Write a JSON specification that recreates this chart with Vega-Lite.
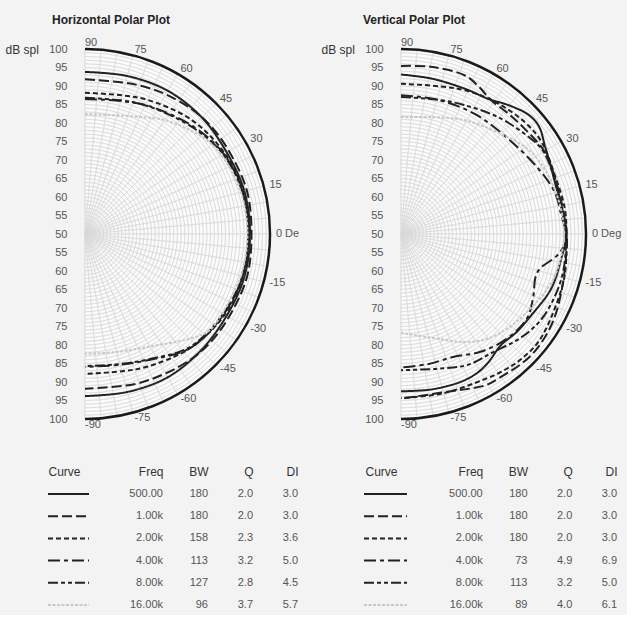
{
  "$schema": "https://vega.github.io/schema/vega-lite/v6.json",
  "background": "#f3f3f3",
  "padding": {"left": 5, "right": 5, "top": 14, "bottom": 5},
  "bounds": "flush",
  "columns": 2,
  "spacing": {"row": 75, "column": 64},
  "resolve": {"scale": {"x": "independent", "y": "independent"}},
  "datasets": {
    "grid_r": [{"r":1},{"r":2},{"r":3},{"r":4},{"r":5},{"r":6},{"r":7},{"r":8},{"r":9},{"r":10},{"r":11},{"r":12},{"r":13},{"r":14},{"r":15},{"r":16},{"r":17},{"r":18},{"r":19},{"r":20},{"r":21},{"r":22},{"r":23},{"r":24},{"r":25},{"r":26},{"r":27},{"r":28},{"r":29},{"r":30},{"r":31},{"r":32},{"r":33},{"r":34},{"r":35},{"r":36},{"r":37},{"r":38},{"r":39},{"r":40},{"r":41},{"r":42},{"r":43},{"r":44},{"r":45},{"r":46},{"r":47},{"r":48},{"r":49}],
    "spokes": [{"angle":-90},{"angle":-85},{"angle":-80},{"angle":-75},{"angle":-70},{"angle":-65},{"angle":-60},{"angle":-55},{"angle":-50},{"angle":-45},{"angle":-40},{"angle":-35},{"angle":-30},{"angle":-25},{"angle":-20},{"angle":-15},{"angle":-10},{"angle":-5},{"angle":0},{"angle":5},{"angle":10},{"angle":15},{"angle":20},{"angle":25},{"angle":30},{"angle":35},{"angle":40},{"angle":45},{"angle":50},{"angle":55},{"angle":60},{"angle":65},{"angle":70},{"angle":75},{"angle":80},{"angle":85},{"angle":90}],
    "hlabels": [{"angle":90,"label":"90"},{"angle":75,"label":"75"},{"angle":60,"label":"60"},{"angle":45,"label":"45"},{"angle":30,"label":"30"},{"angle":15,"label":"15"},{"angle":0,"label":"0 De"},{"angle":-15,"label":"-15"},{"angle":-30,"label":"-30"},{"angle":-45,"label":"-45"},{"angle":-60,"label":"-60"},{"angle":-75,"label":"-75"},{"angle":-90,"label":"-90"}],
    "vlabels": [{"angle":90,"label":"90"},{"angle":75,"label":"75"},{"angle":60,"label":"60"},{"angle":45,"label":"45"},{"angle":30,"label":"30"},{"angle":15,"label":"15"},{"angle":0,"label":"0 Deg"},{"angle":-15,"label":"-15"},{"angle":-30,"label":"-30"},{"angle":-45,"label":"-45"},{"angle":-60,"label":"-60"},{"angle":-75,"label":"-75"},{"angle":-90,"label":"-90"}],
    "hcurves": [
      {"curve":"500.00","angle":90,"level":93.8},{"curve":"500.00","angle":75,"level":94.2},{"curve":"500.00","angle":60,"level":94.7},{"curve":"500.00","angle":45,"level":94.6},{"curve":"500.00","angle":30,"level":94.2},{"curve":"500.00","angle":15,"level":94.6},{"curve":"500.00","angle":0,"level":94.6},{"curve":"500.00","angle":-15,"level":94.6},{"curve":"500.00","angle":-30,"level":94.2},{"curve":"500.00","angle":-45,"level":94.4},{"curve":"500.00","angle":-60,"level":94.7},{"curve":"500.00","angle":-75,"level":94.2},{"curve":"500.00","angle":-90,"level":93.8},
      {"curve":"1.00k","angle":90,"level":91.8},{"curve":"1.00k","angle":75,"level":92.3},{"curve":"1.00k","angle":67,"level":93.0},{"curve":"1.00k","angle":60,"level":93.6},{"curve":"1.00k","angle":49,"level":94.4},{"curve":"1.00k","angle":40,"level":94.8},{"curve":"1.00k","angle":30,"level":94.9},{"curve":"1.00k","angle":15,"level":95.3},{"curve":"1.00k","angle":0,"level":95.0},{"curve":"1.00k","angle":-15,"level":95.3},{"curve":"1.00k","angle":-30,"level":94.9},{"curve":"1.00k","angle":-40,"level":94.8},{"curve":"1.00k","angle":-49,"level":94.4},{"curve":"1.00k","angle":-60,"level":93.5},{"curve":"1.00k","angle":-72,"level":92.7},{"curve":"1.00k","angle":-90,"level":91.8},
      {"curve":"2.00k","angle":90,"level":88.2},{"curve":"2.00k","angle":75,"level":88.8},{"curve":"2.00k","angle":65,"level":90.0},{"curve":"2.00k","angle":47,"level":92.2},{"curve":"2.00k","angle":30,"level":93.6},{"curve":"2.00k","angle":15,"level":94.2},{"curve":"2.00k","angle":0,"level":94.2},{"curve":"2.00k","angle":-15,"level":94.2},{"curve":"2.00k","angle":-30,"level":93.6},{"curve":"2.00k","angle":-47,"level":92.0},{"curve":"2.00k","angle":-65,"level":89.6},{"curve":"2.00k","angle":-75,"level":88.4},{"curve":"2.00k","angle":-90,"level":87.8},
      {"curve":"4.00k","angle":90,"level":86.5},{"curve":"4.00k","angle":75,"level":87.2},{"curve":"4.00k","angle":64,"level":88.6},{"curve":"4.00k","angle":45,"level":91.2},{"curve":"4.00k","angle":30,"level":93.3},{"curve":"4.00k","angle":15,"level":94.1},{"curve":"4.00k","angle":0,"level":94.2},{"curve":"4.00k","angle":-15,"level":94.1},{"curve":"4.00k","angle":-30,"level":93.3},{"curve":"4.00k","angle":-47,"level":92.0},{"curve":"4.00k","angle":-63,"level":88.2},{"curve":"4.00k","angle":-75,"level":86.6},{"curve":"4.00k","angle":-90,"level":85.9},
      {"curve":"8.00k","angle":90,"level":86.8},{"curve":"8.00k","angle":75,"level":87.4},{"curve":"8.00k","angle":64,"level":88.5},{"curve":"8.00k","angle":45,"level":90.9},{"curve":"8.00k","angle":30,"level":93.1},{"curve":"8.00k","angle":15,"level":94.0},{"curve":"8.00k","angle":0,"level":94.1},{"curve":"8.00k","angle":-15,"level":94.0},{"curve":"8.00k","angle":-30,"level":93.1},{"curve":"8.00k","angle":-47,"level":91.7},{"curve":"8.00k","angle":-63,"level":88.0},{"curve":"8.00k","angle":-75,"level":86.4},{"curve":"8.00k","angle":-90,"level":85.7},
      {"curve":"16.00k","angle":90,"level":82.4},{"curve":"16.00k","angle":68,"level":84.3},{"curve":"16.00k","angle":55,"level":87.6},{"curve":"16.00k","angle":45,"level":89.8},{"curve":"16.00k","angle":38,"level":91.5},{"curve":"16.00k","angle":30,"level":92.6},{"curve":"16.00k","angle":15,"level":93.6},{"curve":"16.00k","angle":0,"level":93.9},{"curve":"16.00k","angle":-15,"level":93.6},{"curve":"16.00k","angle":-30,"level":92.8},{"curve":"16.00k","angle":-38,"level":92.5},{"curve":"16.00k","angle":-45,"level":90.0},{"curve":"16.00k","angle":-60,"level":85.1},{"curve":"16.00k","angle":-75,"level":83.0},{"curve":"16.00k","angle":-90,"level":82.4}
    ],
    "vcurves": [
      {"curve":"500.00","angle":90,"level":93.1},{"curve":"500.00","angle":79,"level":92.8},{"curve":"500.00","angle":66,"level":92.9},{"curve":"500.00","angle":57,"level":93.5},{"curve":"500.00","angle":50,"level":95.4},{"curve":"500.00","angle":43,"level":97.2},{"curve":"500.00","angle":38,"level":97.3},{"curve":"500.00","angle":31,"level":95.5},{"curve":"500.00","angle":25,"level":94.5},{"curve":"500.00","angle":19,"level":93.9},{"curve":"500.00","angle":9,"level":93.9},{"curve":"500.00","angle":0,"level":94.7},{"curve":"500.00","angle":-9,"level":93.8},{"curve":"500.00","angle":-20,"level":93.2},{"curve":"500.00","angle":-32,"level":91.5},{"curve":"500.00","angle":-40,"level":91.0},{"curve":"500.00","angle":-48,"level":90.4},{"curve":"500.00","angle":-56,"level":92.0},{"curve":"500.00","angle":-61,"level":92.8},{"curve":"500.00","angle":-68,"level":93.1},{"curve":"500.00","angle":-79,"level":92.8},{"curve":"500.00","angle":-90,"level":92.5},
      {"curve":"1.00k","angle":90,"level":95.4},{"curve":"1.00k","angle":80,"level":95.9},{"curve":"1.00k","angle":68,"level":96.2},{"curve":"1.00k","angle":62,"level":95.0},{"curve":"1.00k","angle":56,"level":93.6},{"curve":"1.00k","angle":48,"level":93.6},{"curve":"1.00k","angle":40,"level":93.9},{"curve":"1.00k","angle":30,"level":94.7},{"curve":"1.00k","angle":16,"level":94.2},{"curve":"1.00k","angle":0,"level":94.8},{"curve":"1.00k","angle":-7,"level":95.0},{"curve":"1.00k","angle":-20,"level":96.1},{"curve":"1.00k","angle":-31,"level":97.5},{"curve":"1.00k","angle":-43,"level":98.1},{"curve":"1.00k","angle":-56,"level":97.1},{"curve":"1.00k","angle":-61,"level":96.8},{"curve":"1.00k","angle":-73,"level":94.5},{"curve":"1.00k","angle":-90,"level":94.5},
      {"curve":"2.00k","angle":90,"level":90.6},{"curve":"2.00k","angle":75,"level":91.3},{"curve":"2.00k","angle":66,"level":92.5},{"curve":"2.00k","angle":55,"level":93.8},{"curve":"2.00k","angle":42,"level":95.1},{"curve":"2.00k","angle":33,"level":95.4},{"curve":"2.00k","angle":21,"level":94.5},{"curve":"2.00k","angle":9,"level":94.8},{"curve":"2.00k","angle":0,"level":94.7},{"curve":"2.00k","angle":-14,"level":95.6},{"curve":"2.00k","angle":-26,"level":96.2},{"curve":"2.00k","angle":-38,"level":97.2},{"curve":"2.00k","angle":-46,"level":96.9},{"curve":"2.00k","angle":-52,"level":96.3},{"curve":"2.00k","angle":-60,"level":95.3},{"curve":"2.00k","angle":-76,"level":94.5},{"curve":"2.00k","angle":-90,"level":94.3},
      {"curve":"4.00k","angle":90,"level":87.5},{"curve":"4.00k","angle":75,"level":87.6},{"curve":"4.00k","angle":58,"level":88.1},{"curve":"4.00k","angle":42,"level":88.7},{"curve":"4.00k","angle":26,"level":91.0},{"curve":"4.00k","angle":15,"level":93.1},{"curve":"4.00k","angle":7,"level":93.6},{"curve":"4.00k","angle":0,"level":94.6},{"curve":"4.00k","angle":-3,"level":94.6},{"curve":"4.00k","angle":-8,"level":92.5},{"curve":"4.00k","angle":-14,"level":88.7},{"curve":"4.00k","angle":-18,"level":88.2},{"curve":"4.00k","angle":-26,"level":89.7},{"curve":"4.00k","angle":-34,"level":91.0},{"curve":"4.00k","angle":-45,"level":90.2},{"curve":"4.00k","angle":-56,"level":88.4},{"curve":"4.00k","angle":-67,"level":86.1},{"curve":"4.00k","angle":-78,"level":85.9},{"curve":"4.00k","angle":-90,"level":86.1},
      {"curve":"8.00k","angle":90,"level":87.0},{"curve":"8.00k","angle":75,"level":87.6},{"curve":"8.00k","angle":64,"level":88.8},{"curve":"8.00k","angle":50,"level":91.1},{"curve":"8.00k","angle":36,"level":93.6},{"curve":"8.00k","angle":30,"level":94.5},{"curve":"8.00k","angle":16,"level":94.0},{"curve":"8.00k","angle":0,"level":94.5},{"curve":"8.00k","angle":-15,"level":95.0},{"curve":"8.00k","angle":-30,"level":94.5},{"curve":"8.00k","angle":-40,"level":93.0},{"curve":"8.00k","angle":-52,"level":90.5},{"curve":"8.00k","angle":-63,"level":89.7},{"curve":"8.00k","angle":-75,"level":87.7},{"curve":"8.00k","angle":-90,"level":86.8},
      {"curve":"16.00k","angle":90,"level":81.6},{"curve":"16.00k","angle":75,"level":82.7},{"curve":"16.00k","angle":61,"level":85.2},{"curve":"16.00k","angle":46,"level":88.0},{"curve":"16.00k","angle":32,"level":91.6},{"curve":"16.00k","angle":16,"level":93.3},{"curve":"16.00k","angle":0,"level":94.0},{"curve":"16.00k","angle":-16,"level":93.0},{"curve":"16.00k","angle":-32,"level":90.0},{"curve":"16.00k","angle":-42,"level":88.4},{"curve":"16.00k","angle":-51,"level":86.6},{"curve":"16.00k","angle":-60,"level":83.7},{"curve":"16.00k","angle":-71,"level":79.9},{"curve":"16.00k","angle":-90,"level":76.7}
    ],
    "htable": [
      {"Freq":"500.00","BW":"180","Q":"2.0","DI":"3.0"},
      {"Freq":"1.00k","BW":"180","Q":"2.0","DI":"3.0"},
      {"Freq":"2.00k","BW":"158","Q":"2.3","DI":"3.6"},
      {"Freq":"4.00k","BW":"113","Q":"3.2","DI":"5.0"},
      {"Freq":"8.00k","BW":"127","Q":"2.8","DI":"4.5"},
      {"Freq":"16.00k","BW":"96","Q":"3.7","DI":"5.7"}
    ],
    "vtable": [
      {"Freq":"500.00","BW":"180","Q":"2.0","DI":"3.0"},
      {"Freq":"1.00k","BW":"180","Q":"2.0","DI":"3.0"},
      {"Freq":"2.00k","BW":"180","Q":"2.0","DI":"3.0"},
      {"Freq":"4.00k","BW":"73","Q":"4.9","DI":"6.9"},
      {"Freq":"8.00k","BW":"113","Q":"3.2","DI":"5.0"},
      {"Freq":"16.00k","BW":"89","Q":"4.0","DI":"6.1"}
    ]
  },
  "concat": [
    {
      "width": 222, "height": 370,
      "title": {"text": "Horizontal Polar Plot", "anchor": "start", "frame": "group", "dx": 4},
      "layer": [
        {"data": {"values": [{"r": 50}]}, "mark": {"type": "arc", "theta": 0, "theta2": 3.14159265, "fill": "#fbfbfb", "strokeWidth": 0},
          "encoding": {
            "x": {"datum": 0, "type": "quantitative", "scale": {"domain": [-10, 50], "nice": false, "zero": false}, "axis": null},
            "y": {"datum": 0, "type": "quantitative", "scale": {"domain": [-50, 50], "nice": false, "zero": false}, "axis": {"values": [-50,-45,-40,-35,-30,-25,-20,-15,-10,-5,0,5,10,15,20,25,30,35,40,45,50], "labelExpr": "abs(datum.value)+50", "title": "dB spl"}},
            "radius": {"field": "r", "type": "quantitative", "scale": {"type": "linear", "domain": [0, 50], "range": [0, 185], "zero": true, "nice": false}, "stack": null}}},
        {"data": {"name": "grid_r"}, "mark": {"type": "arc", "theta": 0, "theta2": 3.14159265, "filled": false, "stroke": "#d8d8d8", "strokeWidth": 0.6},
          "encoding": {
            "x": {"datum": 0, "type": "quantitative", "scale": {"domain": [-10, 50], "nice": false, "zero": false}, "axis": null},
            "y": {"datum": 0, "type": "quantitative", "scale": {"domain": [-50, 50], "nice": false, "zero": false}, "axis": {"values": [-50,-45,-40,-35,-30,-25,-20,-15,-10,-5,0,5,10,15,20,25,30,35,40,45,50], "labelExpr": "abs(datum.value)+50", "title": "dB spl"}},
            "radius": {"field": "r", "type": "quantitative", "scale": {"type": "linear", "domain": [0, 50], "range": [0, 185], "zero": true, "nice": false}, "stack": null}, "radius2": {"field": "r"}}},
        {"data": {"name": "spokes"}, "mark": {"type": "arc", "filled": false, "stroke": "#d8d8d8", "strokeWidth": 0.6},
          "encoding": {
            "x": {"datum": 0, "type": "quantitative", "scale": {"domain": [-10, 50], "nice": false, "zero": false}, "axis": null},
            "y": {"datum": 0, "type": "quantitative", "scale": {"domain": [-50, 50], "nice": false, "zero": false}, "axis": {"values": [-50,-45,-40,-35,-30,-25,-20,-15,-10,-5,0,5,10,15,20,25,30,35,40,45,50], "labelExpr": "abs(datum.value)+50", "title": "dB spl"}},
            "theta": {"field": "angle", "type": "quantitative", "scale": {"type": "linear", "domain": [90, -90], "range": [0, 3.14159265], "nice": false, "zero": false}, "stack": null}, "theta2": {"field": "angle"},
            "radius": {"datum": 50, "type": "quantitative", "scale": {"type": "linear", "domain": [0, 50], "range": [0, 185], "zero": true, "nice": false}}, "radius2": {"datum": 0}}},
        {"data": {"values": [{"r": 50}]}, "mark": {"type": "arc", "theta": 0, "theta2": 3.14159265, "filled": false, "stroke": "#1a1a1a", "strokeWidth": 2.5},
          "encoding": {
            "x": {"datum": 0, "type": "quantitative", "scale": {"domain": [-10, 50], "nice": false, "zero": false}, "axis": null},
            "y": {"datum": 0, "type": "quantitative", "scale": {"domain": [-50, 50], "nice": false, "zero": false}, "axis": {"values": [-50,-45,-40,-35,-30,-25,-20,-15,-10,-5,0,5,10,15,20,25,30,35,40,45,50], "labelExpr": "abs(datum.value)+50", "title": "dB spl"}},
            "radius": {"field": "r", "type": "quantitative", "scale": {"type": "linear", "domain": [0, 50], "range": [0, 185], "zero": true, "nice": false}, "stack": null}, "radius2": {"field": "r"}}},
        {"data": {"name": "hcurves"},
          "transform": [{"calculate": "(datum.level-50)*cos(datum.angle*PI/180)", "as": "px"}, {"calculate": "(datum.level-50)*sin(datum.angle*PI/180)", "as": "py"}],
          "mark": {"type": "line", "interpolate": "catmull-rom", "strokeCap": "butt"},
          "encoding": {
            "x": {"field": "px", "type": "quantitative", "scale": {"domain": [-10, 50], "nice": false, "zero": false}, "axis": null},
            "y": {"field": "py", "type": "quantitative", "scale": {"domain": [-50, 50], "nice": false, "zero": false}, "axis": {"values": [-50,-45,-40,-35,-30,-25,-20,-15,-10,-5,0,5,10,15,20,25,30,35,40,45,50], "labelExpr": "abs(datum.value)+50", "title": "dB spl"}},
            "order": {"field": "angle", "type": "quantitative", "sort": "descending"},
            "strokeDash": {"field": "curve", "type": "nominal", "scale": {"domain": ["500.00","1.00k","2.00k","4.00k","8.00k","16.00k"], "range": [[1,0],[10,4],[5,3],[12,4,4,4],[10,3,4,3,4,3],[3,1.5]]}, "legend": null},
            "color": {"field": "curve", "type": "nominal", "scale": {"domain": ["500.00","1.00k","2.00k","4.00k","8.00k","16.00k"], "range": ["#222","#222","#222","#222","#222","#c8c8c8"]}, "legend": null},
            "strokeWidth": {"field": "curve", "type": "nominal", "scale": {"domain": ["500.00","1.00k","2.00k","4.00k","8.00k","16.00k"], "range": [2,2,2,2,2,1.5]}, "legend": null}
          }},
        {"data": {"name": "hlabels"}, "mark": {"type": "text", "align": "left", "baseline": "middle", "fontSize": 11, "color": "#555"},
          "encoding": {
            "x": {"datum": 0, "type": "quantitative", "scale": {"domain": [-10, 50], "nice": false, "zero": false}, "axis": null},
            "y": {"datum": 0, "type": "quantitative", "scale": {"domain": [-50, 50], "nice": false, "zero": false}, "axis": {"values": [-50,-45,-40,-35,-30,-25,-20,-15,-10,-5,0,5,10,15,20,25,30,35,40,45,50], "labelExpr": "abs(datum.value)+50", "title": "dB spl"}},
            "theta": {"field": "angle", "type": "quantitative", "scale": {"type": "linear", "domain": [90, -90], "range": [0, 3.14159265], "nice": false, "zero": false}},
            "radius": {"datum": 51.6, "type": "quantitative", "scale": {"type": "linear", "domain": [0, 50], "range": [0, 185], "zero": true, "nice": false}},
            "text": {"field": "label"}}}
      ]
    },
    {
      "width": 222, "height": 370,
      "title": {"text": "Vertical Polar Plot", "anchor": "start", "frame": "group", "dx": -1},
      "layer": [
        {"data": {"values": [{"r": 50}]}, "mark": {"type": "arc", "theta": 0, "theta2": 3.14159265, "fill": "#fbfbfb", "strokeWidth": 0},
          "encoding": {
            "x": {"datum": 0, "type": "quantitative", "scale": {"domain": [-10, 50], "nice": false, "zero": false}, "axis": null},
            "y": {"datum": 0, "type": "quantitative", "scale": {"domain": [-50, 50], "nice": false, "zero": false}, "axis": {"values": [-50,-45,-40,-35,-30,-25,-20,-15,-10,-5,0,5,10,15,20,25,30,35,40,45,50], "labelExpr": "abs(datum.value)+50", "title": "dB spl"}},
            "radius": {"field": "r", "type": "quantitative", "scale": {"type": "linear", "domain": [0, 50], "range": [0, 185], "zero": true, "nice": false}, "stack": null}}},
        {"data": {"name": "grid_r"}, "mark": {"type": "arc", "theta": 0, "theta2": 3.14159265, "filled": false, "stroke": "#d8d8d8", "strokeWidth": 0.6},
          "encoding": {
            "x": {"datum": 0, "type": "quantitative", "scale": {"domain": [-10, 50], "nice": false, "zero": false}, "axis": null},
            "y": {"datum": 0, "type": "quantitative", "scale": {"domain": [-50, 50], "nice": false, "zero": false}, "axis": {"values": [-50,-45,-40,-35,-30,-25,-20,-15,-10,-5,0,5,10,15,20,25,30,35,40,45,50], "labelExpr": "abs(datum.value)+50", "title": "dB spl"}},
            "radius": {"field": "r", "type": "quantitative", "scale": {"type": "linear", "domain": [0, 50], "range": [0, 185], "zero": true, "nice": false}, "stack": null}, "radius2": {"field": "r"}}},
        {"data": {"name": "spokes"}, "mark": {"type": "arc", "filled": false, "stroke": "#d8d8d8", "strokeWidth": 0.6},
          "encoding": {
            "x": {"datum": 0, "type": "quantitative", "scale": {"domain": [-10, 50], "nice": false, "zero": false}, "axis": null},
            "y": {"datum": 0, "type": "quantitative", "scale": {"domain": [-50, 50], "nice": false, "zero": false}, "axis": {"values": [-50,-45,-40,-35,-30,-25,-20,-15,-10,-5,0,5,10,15,20,25,30,35,40,45,50], "labelExpr": "abs(datum.value)+50", "title": "dB spl"}},
            "theta": {"field": "angle", "type": "quantitative", "scale": {"type": "linear", "domain": [90, -90], "range": [0, 3.14159265], "nice": false, "zero": false}, "stack": null}, "theta2": {"field": "angle"},
            "radius": {"datum": 50, "type": "quantitative", "scale": {"type": "linear", "domain": [0, 50], "range": [0, 185], "zero": true, "nice": false}}, "radius2": {"datum": 0}}},
        {"data": {"values": [{"r": 50}]}, "mark": {"type": "arc", "theta": 0, "theta2": 3.14159265, "filled": false, "stroke": "#1a1a1a", "strokeWidth": 2.5},
          "encoding": {
            "x": {"datum": 0, "type": "quantitative", "scale": {"domain": [-10, 50], "nice": false, "zero": false}, "axis": null},
            "y": {"datum": 0, "type": "quantitative", "scale": {"domain": [-50, 50], "nice": false, "zero": false}, "axis": {"values": [-50,-45,-40,-35,-30,-25,-20,-15,-10,-5,0,5,10,15,20,25,30,35,40,45,50], "labelExpr": "abs(datum.value)+50", "title": "dB spl"}},
            "radius": {"field": "r", "type": "quantitative", "scale": {"type": "linear", "domain": [0, 50], "range": [0, 185], "zero": true, "nice": false}, "stack": null}, "radius2": {"field": "r"}}},
        {"data": {"name": "vcurves"},
          "transform": [{"calculate": "(datum.level-50)*cos(datum.angle*PI/180)", "as": "px"}, {"calculate": "(datum.level-50)*sin(datum.angle*PI/180)", "as": "py"}],
          "mark": {"type": "line", "interpolate": "catmull-rom", "strokeCap": "butt"},
          "encoding": {
            "x": {"field": "px", "type": "quantitative", "scale": {"domain": [-10, 50], "nice": false, "zero": false}, "axis": null},
            "y": {"field": "py", "type": "quantitative", "scale": {"domain": [-50, 50], "nice": false, "zero": false}, "axis": {"values": [-50,-45,-40,-35,-30,-25,-20,-15,-10,-5,0,5,10,15,20,25,30,35,40,45,50], "labelExpr": "abs(datum.value)+50", "title": "dB spl"}},
            "order": {"field": "angle", "type": "quantitative", "sort": "descending"},
            "strokeDash": {"field": "curve", "type": "nominal", "scale": {"domain": ["500.00","1.00k","2.00k","4.00k","8.00k","16.00k"], "range": [[1,0],[10,4],[5,3],[12,4,4,4],[10,3,4,3,4,3],[3,1.5]]}, "legend": null},
            "color": {"field": "curve", "type": "nominal", "scale": {"domain": ["500.00","1.00k","2.00k","4.00k","8.00k","16.00k"], "range": ["#222","#222","#222","#222","#222","#c8c8c8"]}, "legend": null},
            "strokeWidth": {"field": "curve", "type": "nominal", "scale": {"domain": ["500.00","1.00k","2.00k","4.00k","8.00k","16.00k"], "range": [2,2,2,2,2,1.5]}, "legend": null}
          }},
        {"data": {"name": "vlabels"}, "mark": {"type": "text", "align": "left", "baseline": "middle", "fontSize": 11, "color": "#555"},
          "encoding": {
            "x": {"datum": 0, "type": "quantitative", "scale": {"domain": [-10, 50], "nice": false, "zero": false}, "axis": null},
            "y": {"datum": 0, "type": "quantitative", "scale": {"domain": [-50, 50], "nice": false, "zero": false}, "axis": {"values": [-50,-45,-40,-35,-30,-25,-20,-15,-10,-5,0,5,10,15,20,25,30,35,40,45,50], "labelExpr": "abs(datum.value)+50", "title": "dB spl"}},
            "theta": {"field": "angle", "type": "quantitative", "scale": {"type": "linear", "domain": [90, -90], "range": [0, 3.14159265], "nice": false, "zero": false}},
            "radius": {"datum": 51.6, "type": "quantitative", "scale": {"type": "linear", "domain": [0, 50], "range": [0, 185], "zero": true, "nice": false}},
            "text": {"field": "label"}}}
      ]
    },
    {
      "width": 252, "height": 111,
      "data": {"name": "htable"},
      "layer": [
        {"mark": {"type": "rule", "xOffset": -70, "x2Offset": -29, "strokeCap": "butt"},
          "encoding": {
            "x": {"datum": "Curve", "type": "ordinal", "scale": {"type": "point", "padding": 0, "domain": ["Curve","Freq","BW","Q","DI"], "range": [70, 250]},
              "axis": {"orient": "top", "title": null, "ticks": false, "tickSize": 0, "domain": false, "grid": false, "labelAngle": 0, "labelPadding": 23, "labelBaseline": "middle", "labelFontSize": 12, "labelColor": "#333", "labelAlign": {"condition": {"test": "datum.value == 'Curve'", "value": "left"}, "value": "right"}, "labelOffset": {"condition": {"test": "datum.value == 'Curve'", "value": -70}, "value": 0}}},
            "x2": {"datum": "Curve"},
            "y": {"field": "Freq", "type": "ordinal", "scale": {"type": "point", "padding": 0, "domain": ["500.00","1.00k","2.00k","4.00k","8.00k","16.00k"]}, "axis": null},
            "strokeDash": {"field": "Freq", "type": "nominal", "scale": {"domain": ["500.00","1.00k","2.00k","4.00k","8.00k","16.00k"], "range": [[1,0],[10,4],[5,3],[12,4,4,4],[10,3,4,3,4,3],[3,1.5]]}, "legend": null},
            "color": {"field": "Freq", "type": "nominal", "scale": {"domain": ["500.00","1.00k","2.00k","4.00k","8.00k","16.00k"], "range": ["#222","#222","#222","#222","#222","#c8c8c8"]}, "legend": null},
            "strokeWidth": {"field": "Freq", "type": "nominal", "scale": {"domain": ["500.00","1.00k","2.00k","4.00k","8.00k","16.00k"], "range": [2,2,2,2,2,1.5]}, "legend": null}
          }},
        {"transform": [{"fold": ["Freq","BW","Q","DI"]}],
          "mark": {"type": "text", "align": "right", "baseline": "middle", "fontSize": 11, "color": "#555"},
          "encoding": {
            "x": {"field": "key", "type": "ordinal", "scale": {"type": "point", "padding": 0, "domain": ["Curve","Freq","BW","Q","DI"], "range": [70, 250]},
              "axis": {"orient": "top", "title": null, "ticks": false, "tickSize": 0, "domain": false, "grid": false, "labelAngle": 0, "labelPadding": 23, "labelBaseline": "middle", "labelFontSize": 12, "labelColor": "#333", "labelAlign": {"condition": {"test": "datum.value == 'Curve'", "value": "left"}, "value": "right"}, "labelOffset": {"condition": {"test": "datum.value == 'Curve'", "value": -70}, "value": 0}}},
            "y": {"field": "Freq", "type": "ordinal", "scale": {"type": "point", "padding": 0, "domain": ["500.00","1.00k","2.00k","4.00k","8.00k","16.00k"]}, "axis": null},
            "text": {"field": "value"}
          }}
      ]
    },
    {
      "width": 252, "height": 111,
      "data": {"name": "vtable"},
      "layer": [
        {"mark": {"type": "rule", "xOffset": -74, "x2Offset": -31, "strokeCap": "butt"},
          "encoding": {
            "x": {"datum": "Curve", "type": "ordinal", "scale": {"type": "point", "padding": 0, "domain": ["Curve","Freq","BW","Q","DI"], "range": [74, 253]},
              "axis": {"orient": "top", "title": null, "ticks": false, "tickSize": 0, "domain": false, "grid": false, "labelAngle": 0, "labelPadding": 23, "labelBaseline": "middle", "labelFontSize": 12, "labelColor": "#333", "labelAlign": {"condition": {"test": "datum.value == 'Curve'", "value": "left"}, "value": "right"}, "labelOffset": {"condition": {"test": "datum.value == 'Curve'", "value": -73}, "value": 0}}},
            "x2": {"datum": "Curve"},
            "y": {"field": "Freq", "type": "ordinal", "scale": {"type": "point", "padding": 0, "domain": ["500.00","1.00k","2.00k","4.00k","8.00k","16.00k"]}, "axis": null},
            "strokeDash": {"field": "Freq", "type": "nominal", "scale": {"domain": ["500.00","1.00k","2.00k","4.00k","8.00k","16.00k"], "range": [[1,0],[10,4],[5,3],[12,4,4,4],[10,3,4,3,4,3],[3,1.5]]}, "legend": null},
            "color": {"field": "Freq", "type": "nominal", "scale": {"domain": ["500.00","1.00k","2.00k","4.00k","8.00k","16.00k"], "range": ["#222","#222","#222","#222","#222","#c8c8c8"]}, "legend": null},
            "strokeWidth": {"field": "Freq", "type": "nominal", "scale": {"domain": ["500.00","1.00k","2.00k","4.00k","8.00k","16.00k"], "range": [2,2,2,2,2,1.5]}, "legend": null}
          }},
        {"transform": [{"fold": ["Freq","BW","Q","DI"]}],
          "mark": {"type": "text", "align": "right", "baseline": "middle", "fontSize": 11, "color": "#555"},
          "encoding": {
            "x": {"field": "key", "type": "ordinal", "scale": {"type": "point", "padding": 0, "domain": ["Curve","Freq","BW","Q","DI"], "range": [74, 253]},
              "axis": {"orient": "top", "title": null, "ticks": false, "tickSize": 0, "domain": false, "grid": false, "labelAngle": 0, "labelPadding": 23, "labelBaseline": "middle", "labelFontSize": 12, "labelColor": "#333", "labelAlign": {"condition": {"test": "datum.value == 'Curve'", "value": "left"}, "value": "right"}, "labelOffset": {"condition": {"test": "datum.value == 'Curve'", "value": -73}, "value": 0}}},
            "y": {"field": "Freq", "type": "ordinal", "scale": {"type": "point", "padding": 0, "domain": ["500.00","1.00k","2.00k","4.00k","8.00k","16.00k"]}, "axis": null},
            "text": {"field": "value"}
          }}
      ]
    }
  ],
  "config": {
    "view": {"stroke": null},
    "font": "Liberation Sans",
    "title": {"fontSize": 12, "fontWeight": "bold", "color": "#222", "offset": 10, "font": "Liberation Sans"},
    "axis": {"labelFont": "Liberation Sans", "titleFont": "Liberation Sans"},
    "axisY": {"titleAngle": 0, "titleAlign": "left", "titleBaseline": "middle", "titleX": -62, "titleY": 0, "titleFontSize": 12, "titleFontWeight": "normal", "titleColor": "#333", "labelFontSize": 11, "labelColor": "#555", "labelPadding": 0, "offset": -19, "ticks": false, "tickSize": 0, "domain": false, "grid": false, "labelFlush": false, "labelOverlap": false},
    "text": {"font": "Liberation Sans"}
  }
}
